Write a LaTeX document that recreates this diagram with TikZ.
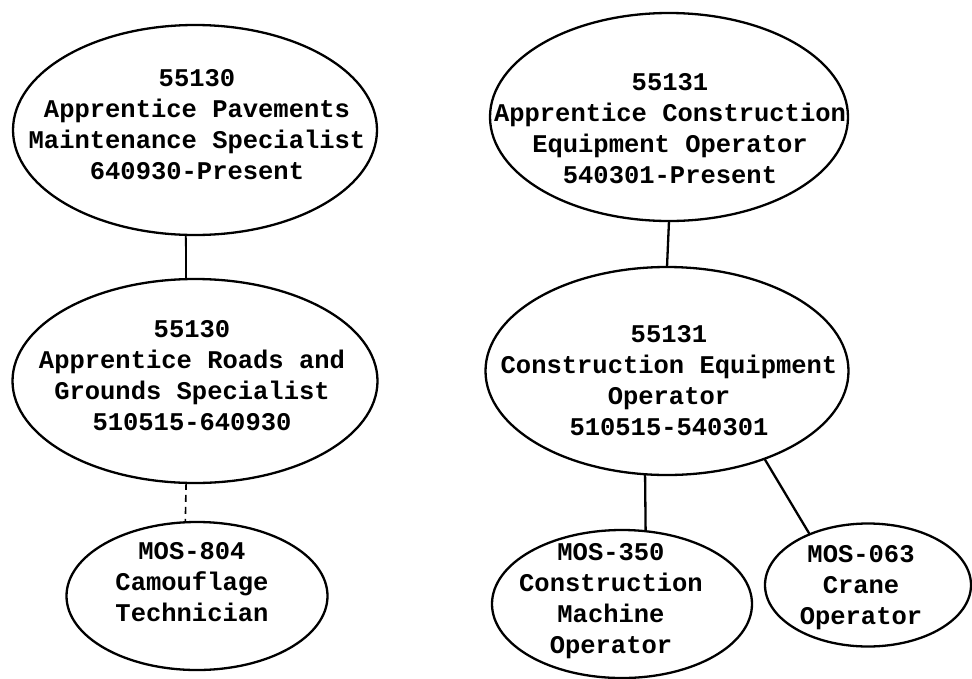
\documentclass[tikz,border=0pt]{standalone}
\usepackage{fontspec}
\setmonofont{Liberation Mono}
\usetikzlibrary{shapes.geometric}
\tikzset{
  oval/.style={ellipse, draw, line width=2.3pt, inner sep=0pt, outer sep=0pt},
  txt/.style={align=center, inner sep=0pt, font=\ttfamily\bfseries\fontsize{25.5}{31}\selectfont},
  link/.style={line width=2.3pt},
  thinlink/.style={line width=1.8pt},
  dashlink/.style={line width=1.6pt, dash pattern=on 7pt off 5pt}
}
\begin{document}
\begin{tikzpicture}[x=1pt,y=-1pt]
\useasboundingbox (0,0) rectangle (972,678);
% ellipses
\node[oval, minimum width=364pt, minimum height=210pt] (e1) at (195,130) {};
\node[oval, minimum width=358pt, minimum height=208pt] (e2) at (669,117) {};
\node[oval, minimum width=365pt, minimum height=204pt] (e3) at (195,381) {};
\node[oval, minimum width=363pt, minimum height=208pt] (e4) at (667,371) {};
\node[oval, minimum width=261pt, minimum height=148pt] (e5) at (197,596) {};
\node[oval, minimum width=260pt, minimum height=148pt] (e6) at (622,604) {};
\node[oval, minimum width=206pt, minimum height=123pt] (e7) at (868,585) {};
% texts
\node[txt] (t1) at (197,125) {55130\\Apprentice Pavements\\Maintenance Specialist\\640930-Present};
\node[txt] (t2) at (670,129) {55131\\Apprentice Construction\\Equipment Operator\\540301-Present};
\node[txt] (t3) at (192,376) {55130\\Apprentice Roads and\\Grounds Specialist\\510515-640930};
\node[txt] (t4) at (669,381) {55131\\Construction Equipment\\Operator\\510515-540301};
\node[txt] (t5) at (192,582) {MOS-804\\Camouflage\\Technician};
\node[txt] (t6) at (611,601) {MOS-350\\Construction\\Machine\\Operator};
\node[txt] (t7) at (861,588) {MOS-063\\Crane\\Operator};
% connectors
\draw[thinlink] (e1.265) -- (e3.95);
\draw[dashlink] (e3.265) -- (e5.99);
\draw[link] (e2.south) -- (e4.north);
\draw[link] (e4.258) -- (e6.72);
\draw[link] (e4.318) -- (e7.139);
\end{tikzpicture}
\end{document}
